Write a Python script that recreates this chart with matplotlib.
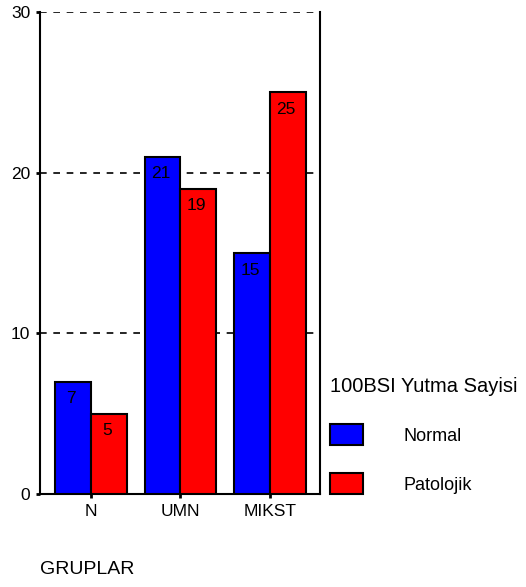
import numpy as np
import matplotlib.pyplot as plt

plt.rcParams['font.family'] = ['Liberation Sans', 'DejaVu Sans']

groups = ["N", "UMN", "MIKST"]
normal = [7, 21, 15]
patolojik = [5, 19, 25]
series_names = ["Normal", "Patolojik"]

fig = plt.figure(figsize=(5.26, 5.87), dpi=100)
ax = fig.add_axes([0.076, 0.1584, 0.532, 0.8212])

x = np.arange(len(groups))
w = 0.4
b1 = ax.bar(x - w/2, normal, w, color="#0000ff", edgecolor="black", linewidth=1.5, label=series_names[0], zorder=3)
b2 = ax.bar(x + w/2, patolojik, w, color="#ff0000", edgecolor="black", linewidth=1.5, label=series_names[1], zorder=3)

# value labels just inside the top of each bar
for bars, vals in [(b1, normal), (b2, patolojik)]:
    for r, v in zip(bars, vals):
        ax.annotate(str(v), (r.get_x() + r.get_width()/2 - 0.02, v), xytext=(0, -7),
                    textcoords="offset points", ha="center", va="top",
                    fontsize=12.5, zorder=4)

for yv in [10, 20, 30]:
    ax.axhline(yv, color="black", linestyle=(0, (4, 4)), linewidth=1.2, zorder=1)

ax.set_ylim(0, 30)
ax.set_xlim(-0.57, 2.56)
ax.set_yticks([0, 10, 20, 30])
ax.set_xticks(x)
ax.set_xticklabels(groups)
ax.spines['top'].set_visible(False)
for s in ['left', 'right', 'bottom']:
    ax.spines[s].set_linewidth(1.5)
ax.tick_params(axis='both', direction='out', length=3, width=2, labelsize=12.5, pad=4)

fig.text(0.076, 0.029, "GRUPLAR", fontsize=14, ha="left", va="center")

leg = ax.legend(title="100BSI Yutma Sayisi", loc="upper left",
                bbox_to_anchor=(0.627, 0.357), bbox_transform=fig.transFigure,
                frameon=False, fontsize=13, title_fontsize=14.5,
                handlelength=1.83, handleheight=1.4, handletextpad=2.27,
                labelspacing=1.55, borderaxespad=0, borderpad=0)
leg._legend_box.align = "left"

fig.savefig("out.png", dpi=100)
